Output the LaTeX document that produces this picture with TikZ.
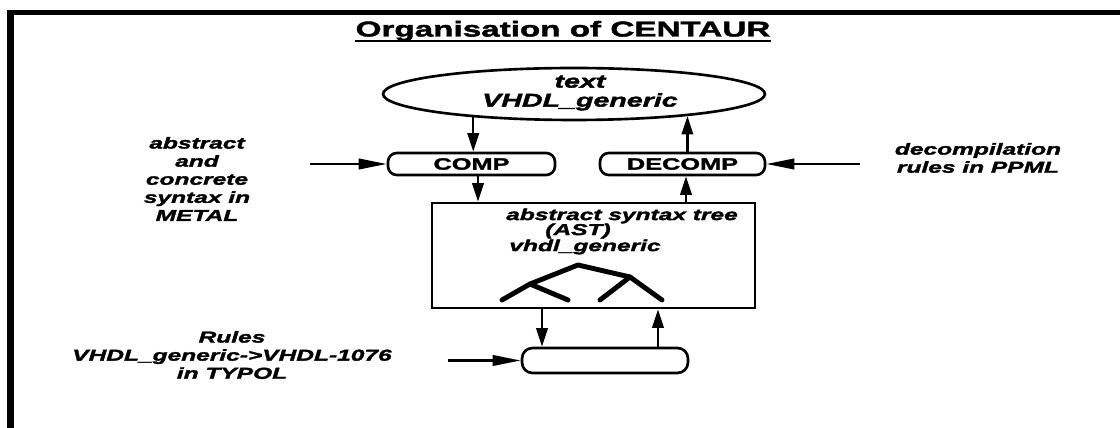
\documentclass[tikz,border=0pt]{standalone}
\usepackage{fontspec}
\setmainfont{Liberation Sans}
\newfontfamily\widefont[FakeStretch=1.55, FakeBold=2]{Liberation Sans}
\usetikzlibrary{arrows.meta,shapes.geometric}
\begin{document}
\begin{tikzpicture}[x=0.02cm,y=-0.02cm,
  lab/.style={font=\widefont\bfseries\itshape\fontsize{9}{10.3}\selectfont, align=center, inner sep=0pt},
  pill/.style={draw, rounded corners=5pt, line width=1.5pt, minimum height=0.44cm, inner sep=0pt,
    font=\widefont\bfseries\fontsize{9.3}{9.5}\selectfont},
  arr/.style={line width=1.3pt, -{Triangle[length=10.5pt,width=6.5pt]}},
  harr/.style={line width=1.3pt, -{Triangle[length=16pt,width=6pt]}},
  tree/.style={line width=2.8pt, line cap=round, line join=round}]
\useasboundingbox[fill=white] (0,0) rectangle (1120,428);
% frame
\fill (7,10) rectangle (14,428);
\fill (7,10) rectangle (1120,15);
% title
\node[font=\widefont\bfseries\fontsize{12.2}{14}\selectfont, inner sep=0pt] (title) at (563,31) {Organisation of CENTAUR};
\draw[line width=1.1pt] ([yshift=-2.5pt]title.base west) -- ([yshift=-2.5pt]title.base east);
% ellipse
\node[ellipse, draw, line width=1.5pt, minimum width=7.64cm, minimum height=1.04cm, inner sep=0pt] (txt) at (574,94) {};
\node[lab, font=\widefont\bfseries\itshape\fontsize{10.5}{10.8}\selectfont] (txtl) at (580,93) {text\\VHDL\_generic};
% comp / decomp
\node[pill, minimum width=3.34cm] (comp) at (471.5,164) {COMP};
\node[pill, minimum width=3.3cm] (decomp) at (682.5,164) {DECOMP};
% AST
\node[draw, line width=1.5pt, minimum width=6.46cm, minimum height=2.1cm, inner sep=0pt] (ast) at (593.5,255.5) {};
\node[lab] (ast1) at (622,216) {abstract syntax tree};
\node[lab] (ast2) at (578,231) {(AST)};
\node[lab] (ast3) at (585,247) {vhdl\_generic};
\draw[tree] (502,300) -- (530,284) -- (568,300);
\draw[tree] (530,284) -- (578,265) -- (630,277) -- (662,300);
\draw[tree] (600,300) -- (630,277);
% bottom box
\node[draw, rounded corners=6pt, line width=1.5pt, minimum width=3.32cm, minimum height=0.5cm, inner sep=0pt] (typ) at (605,360.5) {};
% vertical arrows
\coordinate (xl) at (478,0);
\coordinate (xr) at (686,0);
\coordinate (xa) at (542,0);
\coordinate (xb) at (658,0);
\draw[arr] (txt.193) -- (txt.193 |- comp.north);
\draw[arr] (txt.349 |- decomp.north) -- (txt.349);
\draw[arr] (comp.south -| xl) -- (xl |- ast.north);
\draw[arr] (ast.north -| xr) -- (xr |- decomp.south);
\draw[arr] (ast.south -| xa) -- (xa |- typ.north);
\draw[arr] (typ.north -| xb) -- (xb |- ast.south);
% labels and side arrows
\node[lab] (lmetal) at (197,179) {abstract\\and\\concrete\\syntax in\\METAL};
\coordinate (lt) at (310,164);
\draw[harr] (lt) -- (comp.west);
\node[lab] (rppml) at (978,158) {decompilation\\rules in PPML};
\coordinate (rt) at (860,164);
\draw[harr] (rt) -- (decomp.east);
\node[lab] (rules) at (232,355) {Rules\\VHDL\_generic->VHDL-1076\\in TYPOL};
\coordinate (bt) at (448,360.5);
\draw[harr] (bt) -- (typ.west);
\end{tikzpicture}
\end{document}
